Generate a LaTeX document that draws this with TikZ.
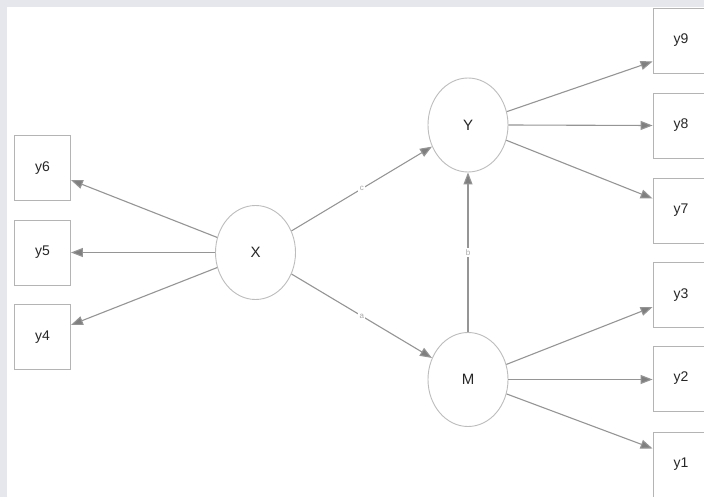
\documentclass[tikz,border=0pt]{standalone}
\usepackage{fontspec}
\setmainfont{Liberation Sans}
\usetikzlibrary{arrows.meta,shapes.geometric}
\definecolor{bgband}{HTML}{E6E7EC}
\definecolor{boxline}{HTML}{B4B4B4}
\definecolor{ellline}{HTML}{BDBDBD}
\definecolor{conn}{HTML}{959595}
\definecolor{tip}{HTML}{7F7F7F}
\definecolor{lbl}{HTML}{A8A8A8}
\begin{document}
\begin{tikzpicture}[x=1pt,y=-1pt,
  obs/.style={draw=boxline,line width=0.9pt,rectangle,minimum width=56pt,minimum height=65pt,inner sep=0pt,font=\fontsize{14}{16}\selectfont,text=black!85},
  lat/.style={draw=ellline,line width=0.9pt,ellipse,minimum width=80pt,minimum height=94pt,inner sep=0pt,font=\fontsize{15}{17}\selectfont,text=black!85},
  conn/.style={draw=conn,line width=1.1pt,-{Triangle[length=12pt,width=9pt,fill=tip]}},
  path lbl/.style={fill=white,inner sep=1.5pt,font=\fontsize{8}{9}\selectfont,text=lbl}]
\clip (0,0) rectangle (704,497);
\fill[bgband] (0,0) rectangle (704,497);
\fill[white] (7,7) rectangle (704,497);
% latent variables
\node[lat] (X) at (255.5,252.5) {X};
\node[lat] (Y) at (468,125) {Y};
\node[lat] (M) at (468,379.5) {M};
% left indicators
\node[obs] (y6) at (42.5,168) {y6};
\node[obs] (y5) at (42.5,252.5) {y5};
\node[obs] (y4) at (42.5,337) {y4};
% right indicators
\node[obs] (y9) at (681,40.5) {y9};
\node[obs] (y8) at (681,125.5) {y8};
\node[obs] (y7) at (681,210.5) {y7};
\node[obs] (y3) at (681,295) {y3};
\node[obs] (y2) at (681,378.5) {y2};
\node[obs] (y1) at (681,464.5) {y1};
% measurement arrows
\draw[conn] (X) -- ([yshift=-12pt]y6.east);
\draw[conn] (X.west) -- (y5.east);
\draw[conn] (X) -- ([yshift=12pt]y4.east);
\draw[conn] (Y) -- ([yshift=-21pt]y9.west);
\draw[conn] (Y.east) -- (y8.west);
\draw[conn] (Y) -- ([yshift=12pt]y7.west);
\draw[conn] (M) -- ([yshift=-12pt]y3.west);
\draw[conn] (M.east) -- (y2.west |- M.east);
\draw[conn] (M) -- ([yshift=16pt]y1.west);
% structural paths
\draw[conn] (X) -- node[path lbl] {c} (Y);
\draw[conn] (X) -- node[path lbl] {a} (M);
\draw[conn] (M) -- node[path lbl] {b} (Y);
\end{tikzpicture}
\end{document}
